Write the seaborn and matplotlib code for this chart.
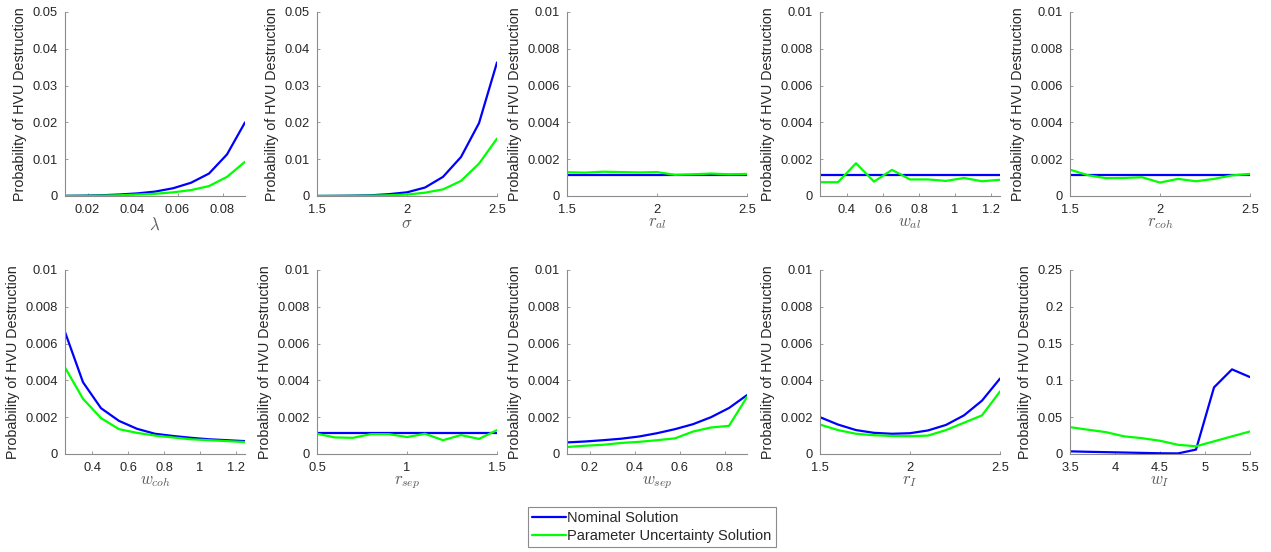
import numpy as np
import pandas as pd
import matplotlib
matplotlib.use("Agg")
import matplotlib.pyplot as plt
import seaborn as sns
from matplotlib.lines import Line2D

### Values (11 sample points per parameter)
lam_x = [0.01, 0.018, 0.026, 0.034, 0.042, 0.05, 0.058, 0.066, 0.074, 0.082, 0.09]
lam_nom = [0.00005, 0.0001, 0.0002, 0.0004, 0.0007, 0.0012, 0.0021, 0.0036, 0.0061, 0.0113, 0.020]
lam_unc = [0.00002, 0.00005, 0.0001, 0.0002, 0.0004, 0.0006, 0.0010, 0.0016, 0.0027, 0.0052, 0.0093]

sig_x = [1.5, 1.6, 1.7, 1.8, 1.9, 2.0, 2.1, 2.2, 2.3, 2.4, 2.5]
sig_nom = [0.00002, 0.00005, 0.0001, 0.0002, 0.0005, 0.0010, 0.0023, 0.0052, 0.0106, 0.0198, 0.0363]
sig_unc = [0.00001, 0.00002, 0.00005, 0.0001, 0.0002, 0.0004, 0.0009, 0.0018, 0.0041, 0.0088, 0.0156]

ral_x = [1.5, 1.6, 1.7, 1.8, 1.9, 2.0, 2.1, 2.2, 2.3, 2.4, 2.5]
ral_nom = [0.00115] * 11
ral_unc = [0.00129, 0.00127, 0.00132, 0.0013, 0.00128, 0.0013, 0.00115, 0.00118, 0.00122, 0.00118, 0.0012]

wal_x = [0.25, 0.35, 0.45, 0.55, 0.65, 0.75, 0.85, 0.95, 1.05, 1.15, 1.25]
wal_nom = [0.00115] * 11
wal_unc = [0.00075, 0.00075, 0.00178, 0.00078, 0.00142, 0.0009, 0.0009, 0.00082, 0.00098, 0.0008, 0.00088]

rcoh_x = [1.5, 1.6, 1.7, 1.8, 1.9, 2.0, 2.1, 2.2, 2.3, 2.4, 2.5]
rcoh_nom = [0.00115] * 11
rcoh_unc = [0.00143, 0.00113, 0.00097, 0.00098, 0.00102, 0.00073, 0.00093, 0.0008, 0.00093, 0.00112, 0.0012]

wcoh_x = [0.25, 0.35, 0.45, 0.55, 0.65, 0.75, 0.85, 0.95, 1.05, 1.15, 1.25]
wcoh_nom = [0.00663, 0.0039, 0.00249, 0.0018, 0.00137, 0.0011, 0.00098, 0.00088, 0.0008, 0.00075, 0.0007]
wcoh_unc = [0.0047, 0.003, 0.00195, 0.00135, 0.00115, 0.001, 0.0009, 0.0008, 0.00075, 0.0007, 0.00065]

rsep_x = [0.5, 0.6, 0.7, 0.8, 0.9, 1.0, 1.1, 1.2, 1.3, 1.4, 1.5]
rsep_nom = [0.00115] * 11
rsep_unc = [0.0011, 0.0009, 0.00088, 0.00108, 0.00108, 0.00092, 0.0011, 0.00075, 0.00103, 0.00082, 0.0013]

wsep_x = [0.1, 0.18, 0.26, 0.34, 0.42, 0.5, 0.58, 0.66, 0.74, 0.82, 0.9]
wsep_nom = [0.00063, 0.00068, 0.00075, 0.00083, 0.00095, 0.00113, 0.00135, 0.00162, 0.002, 0.0025, 0.0032]
wsep_unc = [0.00038, 0.00045, 0.0005, 0.0006, 0.00066, 0.00075, 0.00085, 0.00122, 0.00144, 0.00153, 0.0031]

rI_x = [1.5, 1.6, 1.7, 1.8, 1.9, 2.0, 2.1, 2.2, 2.3, 2.4, 2.5]
rI_nom = [0.002, 0.0016, 0.0013, 0.00115, 0.0011, 0.00113, 0.00128, 0.00158, 0.0021, 0.0029, 0.0041]
rI_unc = [0.0016, 0.0013, 0.0011, 0.00102, 0.00098, 0.00097, 0.001, 0.0013, 0.0017, 0.0021, 0.0034]

wI_x = [3.5, 3.7, 3.9, 4.1, 4.3, 4.5, 4.7, 4.9, 5.1, 5.3, 5.5]
wI_nom = [0.0036, 0.003, 0.0025, 0.002, 0.0015, 0.001, 0.0008, 0.006, 0.0905, 0.115, 0.1045]
wI_unc = [0.0365, 0.033, 0.0297, 0.024, 0.0215, 0.018, 0.0125, 0.0105, 0.0172, 0.024, 0.0306]

NOM = "Nominal Solution"
UNC = "Parameter Uncertainty Solution"
palette = {NOM: "#0000ff", UNC: "#00ff00"}

## (x, nominal, uncertainty, xlabel, xlim, xticks, ylim top)
panels = [
    (lam_x, lam_nom, lam_unc, r"$\lambda$", (0.01, 0.09), [0.02, 0.04, 0.06, 0.08], 0.05),
    (sig_x, sig_nom, sig_unc, r"$\sigma$", (1.5, 2.5), [1.5, 2, 2.5], 0.05),
    (ral_x, ral_nom, ral_unc, r"$r_{al}$", (1.5, 2.5), [1.5, 2, 2.5], 0.01),
    (wal_x, wal_nom, wal_unc, r"$w_{al}$", (0.25, 1.25), [0.4, 0.6, 0.8, 1, 1.2], 0.01),
    (rcoh_x, rcoh_nom, rcoh_unc, r"$r_{coh}$", (1.5, 2.5), [1.5, 2, 2.5], 0.01),
    (wcoh_x, wcoh_nom, wcoh_unc, r"$w_{coh}$", (0.25, 1.25), [0.4, 0.6, 0.8, 1, 1.2], 0.01),
    (rsep_x, rsep_nom, rsep_unc, r"$r_{sep}$", (0.5, 1.5), [0.5, 1, 1.5], 0.01),
    (wsep_x, wsep_nom, wsep_unc, r"$w_{sep}$", (0.1, 0.9), [0.2, 0.4, 0.6, 0.8], 0.01),
    (rI_x, rI_nom, rI_unc, r"$r_I$", (1.5, 2.5), [1.5, 2, 2.5], 0.01),
    (wI_x, wI_nom, wI_unc, r"$w_I$", (3.5, 5.5), [3.5, 4, 4.5, 5, 5.5], 0.25),
]


def fmt(v):
    return "0" if v == 0 else ("%g" % v)


def main():
    sns.set_theme(style="ticks")
    plt.rcParams["font.family"] = ["Liberation Sans", "DejaVu Sans"]
    plt.rcParams["mathtext.fontset"] = "cm"

    fig = plt.figure(figsize=(12.71, 5.52), dpi=100)

    lefts = [65, 317, 567, 820, 1070]
    W, H = 1271.0, 552.0
    aw = 180 / W
    rows = [(12, 196), (270, 454)]

    for i, (x, nom, unc, xlab, xlim, xticks, ytop) in enumerate(panels):
        r, c = divmod(i, 5)
        top, bot = rows[r]
        ax = fig.add_axes([lefts[c] / W, 1 - bot / H, aw, (bot - top) / H])

        df = pd.DataFrame({
            "x": list(x) * 2,
            "p": list(nom) + list(unc),
            "sol": [NOM] * len(x) + [UNC] * len(x),
        })
        sns.lineplot(data=df, x="x", y="p", hue="sol", palette=palette,
                     linewidth=1.6, ax=ax, legend=False)

        ax.set_xlim(*xlim)
        ax.set_ylim(0, ytop)
        ax.set_xticks(xticks)
        ax.set_xticklabels([fmt(t) for t in xticks])
        yt = np.linspace(0, ytop, 6)
        ax.set_yticks(yt)
        ax.set_yticklabels([fmt(round(t, 4)) for t in yt])
        ax.tick_params(direction="in", length=2.5, width=0.6, colors="#8c8c8c",
                       labelcolor="#262626", labelsize=9.3)
        ax.tick_params(axis="x", pad=6)
        ax.tick_params(axis="y", pad=5)
        ax.set_xlabel(xlab, fontsize=12, color="#5a5a5a", labelpad=0)
        ax.set_ylabel("Probability of HVU Destruction", fontsize=10.3,
                      color="#262626", labelpad=4)
        sns.despine(ax=ax)
        for s in ("left", "bottom"):
            ax.spines[s].set_color("#8c8c8c")
            ax.spines[s].set_linewidth(0.8)

    handles = [Line2D([], [], color=palette[NOM], lw=1.6),
               Line2D([], [], color=palette[UNC], lw=1.6)]
    leg = fig.legend(handles, [NOM, UNC], loc="center",
                     bbox_to_anchor=(652 / W, 1 - 527 / H), fontsize=10.5,
                     frameon=True, fancybox=False, handlelength=2.3,
                     handletextpad=0.1, borderpad=0.3, labelspacing=0.25,
                     borderaxespad=0)
    leg.get_frame().set_edgecolor("#6e6e6e")
    leg.get_frame().set_linewidth(0.8)

    fig.savefig("out.png", dpi=100, facecolor="white")


if __name__ == "__main__":
    main()
